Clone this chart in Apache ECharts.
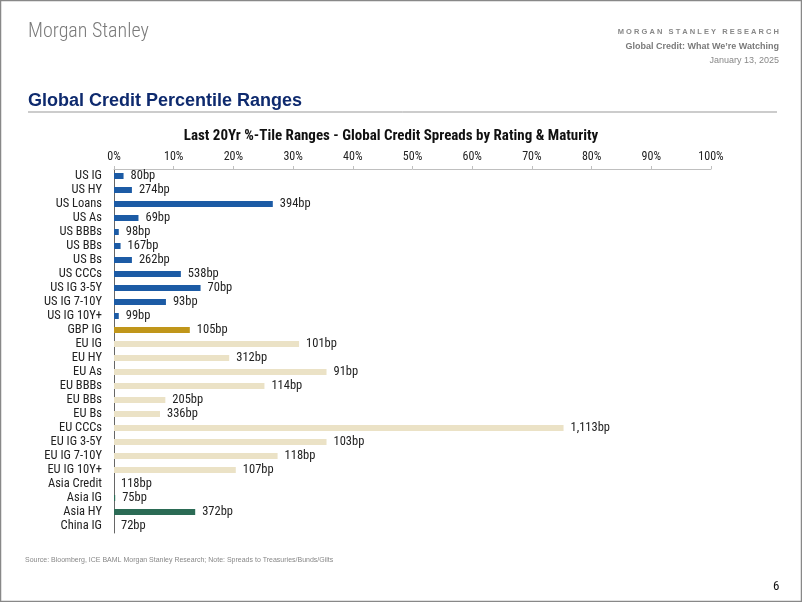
<!DOCTYPE html>
<html><head><meta charset="utf-8">
<script src="https://cdn.jsdelivr.net/npm/echarts@6/dist/echarts.min.js"></script>
<style>html,body{margin:0;padding:0;background:#fff}#c{width:802px;height:602px}</style>
</head><body><div id="c"></div>
<script>
const categories = ["US IG","US HY","US Loans","US As","US BBBs","US BBs","US Bs","US CCCs","US IG 3-5Y","US IG 7-10Y","US IG 10Y+","GBP IG","EU IG","EU HY","EU As","EU BBBs","EU BBs","EU Bs","EU CCCs","EU IG 3-5Y","EU IG 7-10Y","EU IG 10Y+","Asia Credit","Asia IG","Asia HY","China IG"];
const percentiles = [1.6,3.0,26.6,4.1,0.8,1.1,3.0,11.2,14.5,8.7,0.8,12.7,31.0,19.3,35.6,25.2,8.6,7.7,75.3,35.6,27.4,20.4,0,0.2,13.6,0];
const spreadLabels = ["80bp","274bp","394bp","69bp","98bp","167bp","262bp","538bp","70bp","93bp","99bp","105bp","101bp","312bp","91bp","114bp","205bp","336bp","1,113bp","103bp","118bp","107bp","118bp","75bp","372bp","72bp"];
const regions = ["US","US","US","US","US","US","US","US","US","US","US","GBP","EU","EU","EU","EU","EU","EU","EU","EU","EU","EU","Asia","Asia","Asia","Asia"];
const tickLabels = ["0%","10%","20%","30%","40%","50%","60%","70%","80%","90%","100%"];

const regionColors = {US:"#1c5ba5", GBP:"#c0961a", EU:"#ebe2c6", Asia:"#2b6b55"};
const cond = "'Roboto Condensed','Liberation Sans Narrow','DejaVu Sans Condensed',sans-serif";

const chart = echarts.init(document.getElementById('c'), null, {renderer:'canvas'});
chart.setOption({
  animation:false,
  backgroundColor:'#fff',
  title:{text:'Last 20Yr %-Tile Ranges - Global Credit Spreads by Rating & Maturity', left:386, textAlign:'center', top:124,
    textStyle:{fontFamily:cond, fontSize:15, fontWeight:'bold', color:'#111'}},
  grid:{left:114, top:169, width:597, height:364},
  xAxis:{type:'value', position:'top', min:0, max:100, interval:10,
    axisLine:{show:true, lineStyle:{color:'#bfbfbf'}},
    axisTick:{show:true, length:3, lineStyle:{color:'#bfbfbf'}},
    splitLine:{show:false},
    axisLabel:{formatter:(v)=>tickLabels[Math.round(v/10)], fontFamily:cond, fontSize:12, color:'#222', margin:6}},
  yAxis:{type:'category', data:categories, inverse:true,
    axisLine:{show:true, lineStyle:{color:'#666'}},
    axisTick:{show:false},
    axisLabel:{interval:0, fontFamily:cond, fontSize:12.5, color:'#222', margin:12}},
  series:[{type:'bar', barWidth:6,
    data:percentiles.map((v,i)=>({value:v, itemStyle:{color:regionColors[regions[i]]}})),
    label:{show:true, position:'right', distance:7, formatter:(p)=>spreadLabels[p.dataIndex],
      fontFamily:cond, fontSize:12.5, color:'#222'}}],
  graphic:[
    {type:'rect', shape:{x:0.5,y:0.5,width:801,height:601}, style:{fill:null, stroke:'#888', lineWidth:1.5}},
    {type:'text', left:28, top:22, style:{text:'Morgan Stanley', font:"300 20px 'Roboto Condensed','Liberation Sans Narrow',sans-serif", fill:'#7a7a7a'}},
    {type:'text', right:23, top:28, style:{text:'M O R G A N   S T A N L E Y   R E S E A R C H', font:"bold 7.5px 'Liberation Sans',Arial,sans-serif", fill:'#888', textAlign:'right'}},
    {type:'text', right:23, top:42, style:{text:"Global Credit: What We\u2019re Watching", font:"bold 9px 'Liberation Sans',Arial,sans-serif", fill:'#7a7a7a', textAlign:'right'}},
    {type:'text', right:23, top:56, style:{text:'January 13, 2025', font:"9px 'Liberation Sans',Arial,sans-serif", fill:'#888', textAlign:'right'}},
    {type:'text', left:28, top:92, style:{text:'Global Credit Percentile Ranges', font:"bold 18px 'Liberation Sans',Arial,sans-serif", fill:'#0e2a6e'}},
    {type:'line', shape:{x1:28,y1:112,x2:777,y2:112}, style:{stroke:'#999', lineWidth:1}},
    {type:'text', left:25, top:557, style:{text:'Source: Bloomberg, ICE BAML Morgan Stanley Research; Note: Spreads to Treasuries/Bunds/Gilts', font:"7px 'Liberation Sans',Arial,sans-serif", fill:'#888'}},
    {type:'text', left:773, top:580, style:{text:'6', font:"13px 'Roboto Condensed','Liberation Sans Narrow',sans-serif", fill:'#111'}}
  ]
});
</script></body></html>
